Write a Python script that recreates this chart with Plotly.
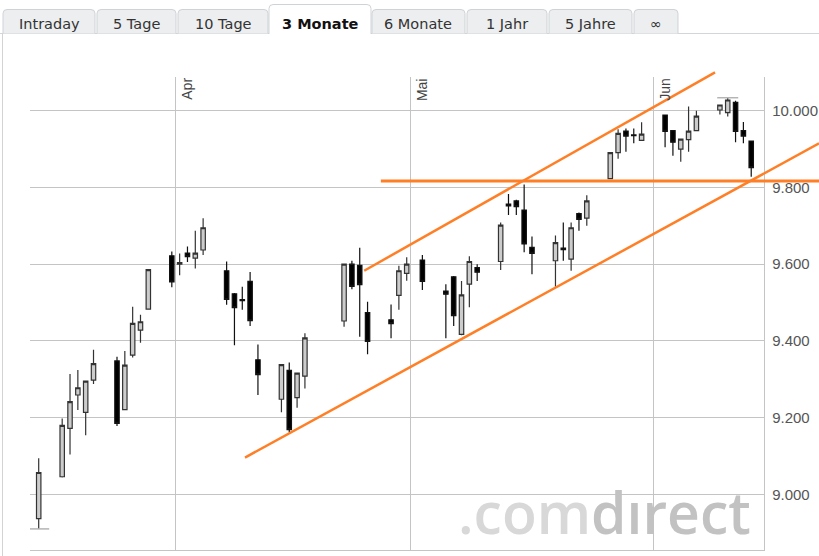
import plotly.graph_objects as go
from datetime import datetime

# ---------------- data ----------------
dates = ["2014-03-14", "2014-03-17", "2014-03-18", "2014-03-19", "2014-03-20", "2014-03-21",
         "2014-03-24", "2014-03-25", "2014-03-26", "2014-03-27", "2014-03-28",
         "2014-03-31", "2014-04-01", "2014-04-02", "2014-04-03", "2014-04-04",
         "2014-04-07", "2014-04-08", "2014-04-09", "2014-04-10", "2014-04-11",
         "2014-04-14", "2014-04-15", "2014-04-16", "2014-04-17",
         "2014-04-22", "2014-04-23", "2014-04-24", "2014-04-25",
         "2014-04-28", "2014-04-29", "2014-04-30", "2014-05-02",
         "2014-05-05", "2014-05-06", "2014-05-07", "2014-05-08", "2014-05-09",
         "2014-05-12", "2014-05-13", "2014-05-14", "2014-05-15", "2014-05-16",
         "2014-05-19", "2014-05-20", "2014-05-21", "2014-05-22", "2014-05-23",
         "2014-05-26", "2014-05-27", "2014-05-28", "2014-05-29", "2014-05-30",
         "2014-06-02", "2014-06-03", "2014-06-04", "2014-06-05", "2014-06-06",
         "2014-06-09", "2014-06-10", "2014-06-11", "2014-06-12", "2014-06-13"]
opens = [8937, 9046, 9172, 9259, 9214, 9298,
         9348, 9221, 9363, 9428, 9483,
         9622, 9600, 9629, 9616, 9637,
         9583, 9523, 9508, 9555, 9351,
         9248, 9323, 9252, 9308,
         9452, 9600, 9597, 9474,
         9455, 9519, 9576, 9611,
         9530, 9567, 9417, 9548, 9591,
         9607, 9757, 9765, 9741, 9644,
         9609, 9642, 9613, 9732, 9720,
         9823, 9891, 9947, 9937, 9923,
         9989, 9948, 9900, 9925, 9948,
         10002, 9995, 10022, 9948, 9921]
highs = [9094, 9198, 9314, 9324, 9296, 9377,
         9359, 9374, 9489, 9468, 9587,
         9633, 9628, 9646, 9687, 9720,
         9607, 9525, 9541, 9580, 9391,
         9339, 9344, 9317, 9420,
         9601, 9609, 9643, 9502,
         9495, 9596, 9618, 9624,
         9548, 9569, 9556, 9621, 9600,
         9709, 9783, 9768, 9808, 9672,
         9675, 9709, 9709, 9735, 9780,
         9892, 9952, 9954, 9954, 9970,
         9990, 9949, 9927, 10011, 10000,
         10016, 10034, 10026, 9971, 9922]
lows = [8910, 9044, 9104, 9220, 9154, 9288,
        9178, 9219, 9357, 9395, 9482,
        9540, 9571, 9606, 9589, 9624,
        9494, 9389, 9481, 9439, 9259,
        9214, 9162, 9226, 9276,
        9437, 9535, 9411, 9365,
        9407, 9481, 9557, 9533,
        9407, 9439, 9415, 9488, 9556,
        9585, 9728, 9728, 9631, 9574,
        9541, 9609, 9583, 9687, 9700,
        9822, 9875, 9893, 9915, 9921,
        9905, 9883, 9867, 9893, 9947,
        9990, 9985, 9918, 9915, 9828]
closes = [9057, 9180, 9242, 9278, 9295, 9341,
          9185, 9337, 9446, 9450, 9586,
          9554, 9604, 9620, 9629, 9695,
          9508, 9487, 9505, 9453, 9312,
          9338, 9169, 9316, 9408,
          9600, 9542, 9547, 9399,
          9445, 9583, 9600, 9555,
          9522, 9466, 9520, 9607, 9579,
          9702, 9752, 9750, 9653, 9628,
          9656, 9638, 9695, 9717, 9765,
          9891, 9941, 9934, 9935, 9939,
          9946, 9918, 9926, 9947, 9986,
          10015, 10028, 9946, 9934, 9852]

y_ticks = [9000, 9200, 9400, 9600, 9800, 10000]
month_starts = ["2014-04-01", "2014-05-01", "2014-06-01"]
month_labels = ["Apr", "Mai", "Jun"]
range_low = ("2014-03-14", 8910)     # 3-month low marker
range_high = ("2014-06-10", 10034)   # 3-month high marker

support_level = 9817
support_from, support_to = "2014-04-27 04:48", "2014-06-22 04:00"
channel_upper = [("2014-04-25 01:40", 9583), ("2014-06-08 21:07", 10100)]
channel_lower = [("2014-04-09 20:24", 9096), ("2014-06-22 03:50", 9915)]

tab_labels = ["Intraday", "5 Tage", "10 Tage", "3 Monate", "6 Monate", "1 Jahr", "5 Jahre", "\u221e"]
active_tab = "3 Monate"

# ---------------- layout geometry ----------------
W, H = 819, 556
ML, MR, MT, MB = 30, 55, 77, 6
PW, PH = W - ML - MR, H - MT - MB
x_range = ["2014-03-13 09:20", "2014-06-15 03:10"]
y_range = [8855, 10088]

tab_edges = [(3, 95), (97, 176), (178, 268), (269, 371), (372, 465), (467, 547), (549, 632), (634, 678)]


def px_x(p):
    return (p - ML) / PW


def px_y(p):
    return (H - MB - p) / PH


def _t(s):
    return datetime.fromisoformat(s)


X0, X1 = _t(x_range[0]), _t(x_range[1])


def dx(s):
    return (_t(s) - X0).total_seconds() / (X1 - X0).total_seconds()


def dy(v):
    return (v - y_range[0]) / (y_range[1] - y_range[0])


ORANGE = "#ff7f27"

fig = go.Figure()

fig.add_trace(go.Scatter(
    x=[range_low[0] + " 12:00", range_high[0] + " 12:00"],
    y=[range_low[1], range_high[1]],
    mode="markers",
    marker=dict(symbol="line-ew", size=15, line=dict(color="#b4b4b4", width=1.5)),
    hoverinfo="skip", showlegend=False))

fig.add_trace(go.Candlestick(
    x=[d + " 12:00" for d in dates],
    open=opens, high=highs, low=lows, close=closes,
    increasing=dict(line=dict(color="#333333", width=1.2), fillcolor="#cccccc"),
    decreasing=dict(line=dict(color="#111111", width=1.2), fillcolor="#000000"),
    whiskerwidth=0, showlegend=False))

shapes = []
# panel borders
shapes.append(dict(type="line", xref="paper", yref="paper", x0=px_x(0), x1=px_x(W),
                   y0=px_y(33.5), y1=px_y(33.5), line=dict(color="#d3d6d9", width=1)))
shapes.append(dict(type="line", xref="paper", yref="paper", x0=px_x(2.5), x1=px_x(2.5),
                   y0=px_y(33.5), y1=px_y(H), line=dict(color="#d3d3d3", width=1)))

# tabs
annotations = []
for (a, b), lab in zip(tab_edges, tab_labels):
    active = lab == active_tab
    top = 4.5 if active else 9.5
    bot = 34 if active else 33.5
    r = 4
    path = (f"M {px_x(a)},{px_y(bot)} L {px_x(a)},{px_y(top + r)} "
            f"Q {px_x(a)},{px_y(top)} {px_x(a + r)},{px_y(top)} "
            f"L {px_x(b - r)},{px_y(top)} Q {px_x(b)},{px_y(top)} {px_x(b)},{px_y(top + r)} "
            f"L {px_x(b)},{px_y(bot)}")
    shapes.append(dict(type="path", xref="paper", yref="paper", path=path,
                       fillcolor="#ffffff" if active else "#eceef0",
                       line=dict(color="#cfd3d7", width=1)))
    annotations.append(dict(xref="paper", yref="paper", x=px_x((a + b) / 2), y=px_y(24),
                            xanchor="center", yanchor="middle", showarrow=False,
                            text=f"<b>{lab}</b>" if active else lab,
                            font=dict(family="DejaVu Sans", size=14.5,
                                      color="#111111" if active else "#333333")))

# trend lines (defined by date / price, converted through the axis ranges)
shapes.append(dict(type="line", xref="paper", yref="paper",
                   x0=dx(support_from), x1=dx(support_to),
                   y0=dy(support_level), y1=dy(support_level),
                   line=dict(color=ORANGE, width=3)))
for (d0, v0), (d1, v1) in [channel_upper, channel_lower]:
    shapes.append(dict(type="line", xref="paper", yref="paper",
                       x0=dx(d0), x1=dx(d1), y0=dy(v0), y1=dy(v1),
                       line=dict(color=ORANGE, width=2.5)))

# month labels
for d, lab in zip(month_starts, month_labels):
    annotations.append(dict(xref="x", yref="paper", x=d, y=1, xanchor="left", yanchor="top",
                            xshift=1, yshift=1, textangle=-90, showarrow=False, text=lab,
                            font=dict(family="Liberation Sans", size=14, color="#444444")))

# watermark
annotations.append(dict(xref="paper", yref="paper", x=px_x(753), y=px_y(553),
                        xanchor="right", yanchor="bottom", showarrow=False,
                        text="<span style='color:#d8d8d8'>.com</span><span style='color:#c2c2c2'>d\u0131rect</span>",
                        font=dict(family="Open Sans", size=57, color="#c8c8c8", weight=600)))

fig.update_layout(
    width=W, height=H, autosize=False,
    margin=dict(l=ML, r=MR, t=MT, b=MB, pad=0, autoexpand=False),
    paper_bgcolor="white", plot_bgcolor="white",
    separators=",.",
    boxgap=0.25, boxgroupgap=0.25,
    showlegend=False,
    shapes=shapes,
    annotations=annotations,
    xaxis=dict(type="date", range=x_range, rangeslider=dict(visible=False),
               showgrid=True, gridcolor="#c4c4c4", gridwidth=1.3,
               dtick="M1", tick0="2014-04-01", showticklabels=False, ticks="",
               showline=True, linecolor="#c4c4c4", linewidth=1.3, zeroline=False,
               automargin=False, fixedrange=True),
    yaxis=dict(range=y_range, side="right", tickvals=y_ticks, tickformat=",.0f",
               showgrid=True, gridcolor="#c4c4c4", gridwidth=1.3,
               showline=True, linecolor="#c4c4c4", linewidth=1.3, zeroline=False,
               ticks="", ticklabelstandoff=4, automargin=False,
               tickfont=dict(family="Liberation Sans", size=15, color="#555555"),
               fixedrange=True),
)

fig.write_html("out.html", config={"displayModeBar": False},
               post_script="document.body.style.margin='0';document.body.style.overflow='hidden';")
